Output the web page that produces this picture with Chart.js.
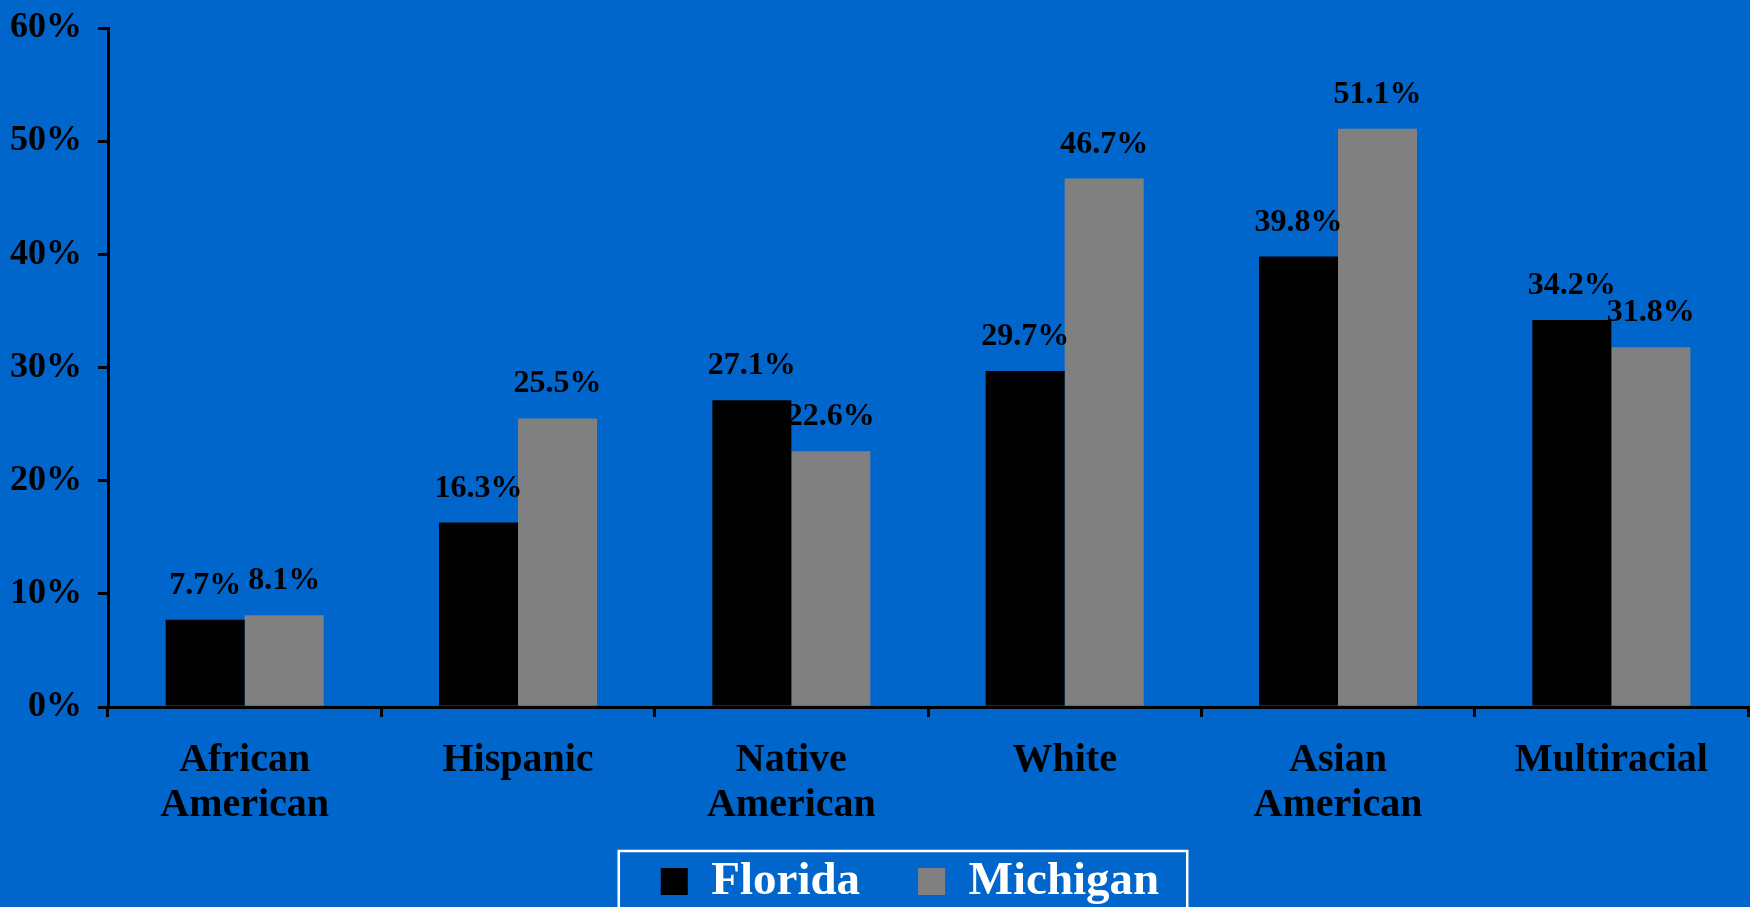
<!DOCTYPE html>
<html>
<head>
<meta charset="utf-8">
<script src="https://cdn.jsdelivr.net/npm/chart.js@4.4.0/dist/chart.umd.min.js"></script>
<style>
  html, body { margin: 0; padding: 0; background: #0066CC; }
  #wrap { width: 1750px; height: 907px; position: relative; }
</style>
</head>
<body>
<div id="wrap"><canvas id="chart-area"></canvas></div>
<script>
  // chart data
  var categories = [
    ['African', 'American'],
    'Hispanic',
    ['Native', 'American'],
    'White',
    ['Asian', 'American'],
    'Multiracial'
  ];
  var floridaValues = [7.7, 16.3, 27.1, 29.7, 39.8, 34.2];
  var michiganValues = [8.1, 25.5, 22.6, 46.7, 51.1, 31.8];
  var yTicks = [0, 10, 20, 30, 40, 50, 60];

  var serif = "'Liberation Serif', 'Times New Roman', serif";

  // value labels over the bars
  var valueLabels = {
    id: 'valueLabels',
    afterDatasetsDraw: function (chart) {
      var ctx = chart.ctx;
      ctx.save();
      ctx.font = 'bold 32px ' + serif;
      ctx.fillStyle = '#000';
      ctx.textAlign = 'center';
      ctx.textBaseline = 'alphabetic';
      chart.data.datasets.forEach(function (ds, di) {
        var meta = chart.getDatasetMeta(di);
        meta.data.forEach(function (bar, i) {
          ctx.fillText(ds.data[i].toFixed(1) + '%', bar.x, bar.y - 26);
        });
      });
      ctx.restore();
    }
  };

  // legend sits a bit right of centre in the original,
  // and the two-line category labels run down into the legend band
  var layoutTweaks = {
    id: 'layoutTweaks',
    afterLayout: function (chart) {
      chart.legend.left += 36;
      chart.legend.right += 36;
      chart.scales.x.bottom = chart.height;
    }
  };

  // white frame round the legend
  var legendFrame = {
    id: 'legendFrame',
    afterDraw: function (chart) {
      var boxes = chart.legend.legendHitBoxes;
      if (!boxes || !boxes.length) {
        return;
      }
      var first = boxes[0], last = boxes[boxes.length - 1];
      var ctx = chart.ctx;
      ctx.save();
      ctx.strokeStyle = '#fff';
      ctx.lineWidth = 2.5;
      ctx.strokeRect(first.left - 42, first.top - 7,
        last.left + last.width + 28 - (first.left - 42), 120);
      ctx.restore();
    }
  };

  var ctx = document.getElementById('chart-area').getContext('2d');
  window.myBar = new Chart(ctx, {
    type: 'bar',
    data: {
      labels: categories,
      datasets: [
        {
          label: 'Florida',
          data: floridaValues,
          backgroundColor: '#000000',
          barPercentage: 1,
          categoryPercentage: 0.578
        },
        {
          label: 'Michigan',
          data: michiganValues,
          backgroundColor: '#808080',
          barPercentage: 1,
          categoryPercentage: 0.578
        }
      ]
    },
    options: {
      responsive: true,
      maintainAspectRatio: false,
      animation: false,
      layout: {
        padding: { top: 28, right: 2, bottom: -8, left: 0 }
      },
      plugins: {
        tooltip: { enabled: false },
        legend: {
          position: 'bottom',
          labels: {
            color: '#fff',
            font: { family: serif, size: 47, weight: 'bold' },
            boxWidth: 27,
            boxHeight: 27,
            padding: 58
          }
        }
      },
      scales: {
        x: {
          grid: {
            drawOnChartArea: false,
            drawTicks: true,
            tickLength: 10,
            color: '#000',
            lineWidth: 3
          },
          border: { color: '#000', width: 3 },
          ticks: {
            color: '#000',
            font: { family: serif, size: 40, weight: 'bold', lineHeight: 1.125 },
            padding: 21,
            maxRotation: 0
          },
          afterFit: function (scale) {
            scale.height = 93;
          }
        },
        y: {
          min: 0,
          max: 60,
          afterBuildTicks: function (scale) {
            scale.ticks = yTicks.map(function (v) { return { value: v }; });
          },
          grid: {
            drawOnChartArea: false,
            drawTicks: true,
            tickLength: 10,
            color: '#000',
            lineWidth: 3
          },
          border: { color: '#000', width: 3 },
          ticks: {
            color: '#000',
            font: { family: serif, size: 36, weight: 'bold' },
            padding: 16,
            callback: function (v) { return v + '%'; }
          },
          afterFit: function (scale) {
            scale.width = 108;
            scale.paddingTop = 0;
          }
        }
      }
    },
    plugins: [valueLabels, layoutTweaks, legendFrame]
  });
</script>
</body>
</html>
